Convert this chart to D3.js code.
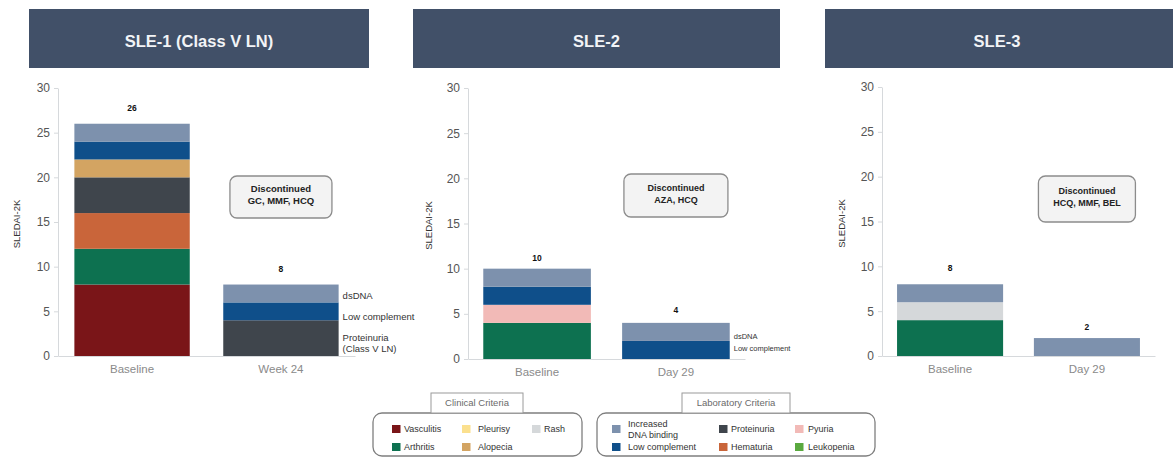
<!DOCTYPE html>
<html>
<head>
<meta charset="utf-8">
<script src="https://cdn.jsdelivr.net/npm/d3@7"></script>
<style>
  body { margin: 0; background: #fff; }
  svg { display: block; font-family: "Liberation Sans", Arial, sans-serif; }
</style>
</head>
<body>
<svg id="chart" width="1173" height="457"></svg>
<script>
// ---- Data -------------------------------------------------------------
const panelTitles = ["SLE-1 (Class V LN)", "SLE-2", "SLE-3"];
const visitLabels = [["Baseline", "Week 24"], ["Baseline", "Day 29"], ["Baseline", "Day 29"]];
const discontinuedDrugs = ["GC, MMF, HCQ", "AZA, HCQ", "HCQ, MMF, BEL"];
const yTicks = [0, 5, 10, 15, 20, 25, 30];

// SLEDAI-2K contributions per visit, listed bottom to top of each stack
const sle1Stacks = [
  [["Vasculitis", 8], ["Arthritis", 4], ["Hematuria", 4], ["Proteinuria", 4],
   ["Alopecia", 2], ["Low complement", 2], ["Increased DNA binding", 2]],
  [["Proteinuria", 4], ["Low complement", 2], ["Increased DNA binding", 2]]
];
const sle2Stacks = [
  [["Arthritis", 4], ["Pyuria", 2], ["Low complement", 2], ["Increased DNA binding", 2]],
  [["Low complement", 2], ["Increased DNA binding", 2]]
];
const sle3Stacks = [
  [["Arthritis", 4], ["Rash", 2], ["Increased DNA binding", 2]],
  [["Increased DNA binding", 2]]
];

// Annotations beside the follow-up bars
const sle1FollowUpNotes = [["dsDNA"], ["Low complement"], ["Proteinuria", "(Class V LN)"]];
const sle2FollowUpNotes = [["dsDNA"], ["Low complement"]];

const clinicalCriteria = ["Vasculitis", "Pleurisy", "Rash", "Arthritis", "Alopecia"];
const laboratoryCriteria = ["Increased DNA binding", "Proteinuria", "Pyuria",
                            "Low complement", "Hematuria", "Leukopenia"];

// ---- Styling ------------------------------------------------------------
const criterionColor = {
  "Vasculitis": "#7a1518",
  "Arthritis": "#0d7150",
  "Pleurisy": "#fbe08e",
  "Alopecia": "#d3a462",
  "Rash": "#d5d8da",
  "Increased DNA binding": "#7d91ad",
  "Low complement": "#0f4f8a",
  "Proteinuria": "#3f454c",
  "Hematuria": "#c9653a",
  "Pyuria": "#f2bab7",
  "Leukopenia": "#5aa93f"
};
const legendLines = { "Increased DNA binding": ["Increased", "DNA binding"] };

const panels = [
  { stacks: sle1Stacks, notes: sle1FollowUpNotes, noteAt: [6.8, 4.4, 2.0], noteSize: 9.5,
    x0: 58, x1: 355, yTop: 88, yBottom: 356, titleX: 17, header: [29, 369],
    box: { y: 176, h: 42, w: 102 }, boxFont: 9.5, labelGap: [16, 16] },
  { stacks: sle2Stacks, notes: sle2FollowUpNotes, noteAt: [2.5, 1.2], noteSize: 7.5,
    x0: 468, x1: 745, yTop: 88, yBottom: 359, titleX: 429, header: [413, 780],
    box: { y: 174, h: 43, w: 104 }, boxFont: 9, labelGap: [11, 13] },
  { stacks: sle3Stacks, notes: [], noteAt: [], noteSize: 7.5,
    x0: 882, x1: 1155, yTop: 87, yBottom: 356, titleX: 842, header: [825, 1185],
    box: { y: 176, h: 46, w: 97 }, boxFont: 9, labelGap: [16, 11] }
];

const svg = d3.select("#chart");

// ---- Panels -------------------------------------------------------------
panels.forEach((p, i) => {
  const g = svg.append("g");

  // header banner
  g.append("rect")
    .attr("x", p.header[0]).attr("y", 9)
    .attr("width", p.header[1] - p.header[0]).attr("height", 59)
    .attr("fill", "#415068");
  g.append("text")
    .attr("x", (p.header[0] + Math.min(p.header[1], 1173)) / 2 + (i === 2 ? -2 : 0))
    .attr("y", 41).attr("dy", "0.35em")
    .attr("text-anchor", "middle")
    .attr("fill", "#f2f4f7").attr("font-weight", "bold").attr("font-size", 16.5)
    .text(panelTitles[i]);

  const visits = visitLabels[i];
  const x = d3.scaleBand().domain(visits).range([p.x0, p.x1])
    .paddingInner(0.225).paddingOuter(0.11);
  const y = d3.scaleLinear().domain([0, 30]).range([p.yBottom, p.yTop]);

  // y axis
  const ya = g.append("g").attr("transform", `translate(${p.x0},0)`)
    .call(d3.axisLeft(y).tickValues(yTicks).tickSize(4).tickSizeOuter(0).tickPadding(4));
  ya.select(".domain").attr("stroke", "#d6d9dc");
  ya.selectAll(".tick line").attr("stroke", "#d6d9dc");
  ya.selectAll(".tick text").attr("fill", "#555").attr("font-size", 12)
    .attr("font-family", "Liberation Sans, Arial, sans-serif");

  // x axis
  const xa = g.append("g").attr("transform", `translate(0,${p.yBottom})`)
    .call(d3.axisBottom(x).tickSize(0).tickSizeOuter(0).tickPadding(9));
  xa.select(".domain").attr("stroke", "#d6d9dc");
  xa.selectAll(".tick text").attr("fill", "#8a8a8a").attr("font-size", 11.5)
    .attr("font-family", "Liberation Sans, Arial, sans-serif");

  // y axis title
  g.append("text")
    .attr("transform", `translate(${p.titleX},${(p.yTop + p.yBottom) / 2 + 2}) rotate(-90)`)
    .attr("text-anchor", "middle").attr("dy", "0.35em")
    .attr("fill", "#333").attr("font-size", 9.5)
    .text("SLEDAI-2K");

  // stacked bars
  p.stacks.forEach((stack, vi) => {
    const visit = visits[vi];
    const tops = d3.cumsum(stack, d => d[1]);
    const segs = stack.map((d, k) => ({ name: d[0], lo: tops[k] - d[1], hi: tops[k] }));
    g.append("g").selectAll("rect").data(segs).join("rect")
      .attr("x", x(visit)).attr("width", x.bandwidth())
      .attr("y", d => y(d.hi))
      .attr("height", d => y(d.lo) - y(d.hi))
      .attr("fill", d => criterionColor[d.name]);

    const total = d3.sum(stack, d => d[1]);
    g.append("text")
      .attr("x", x(visit) + x.bandwidth() / 2)
      .attr("y", y(total) - p.labelGap[vi]).attr("dy", "0.35em")
      .attr("text-anchor", "middle").attr("font-weight", "bold")
      .attr("font-size", 8.5).attr("fill", "#111")
      .text(total);
  });

  // notes beside the follow-up bar
  const lastVisit = visits[visits.length - 1];
  p.notes.forEach((lines, k) => {
    const t = g.append("text")
      .attr("x", x(lastVisit) + x.bandwidth() + 4)
      .attr("y", y(p.noteAt[k])).attr("dy", "0.35em")
      .attr("font-size", p.noteSize).attr("fill", "#333");
    lines.forEach((ln, li) => {
      t.append("tspan").attr("x", x(lastVisit) + x.bandwidth() + 4)
        .attr("dy", li === 0 ? "0.35em" : "1.15em").text(ln);
    });
    t.attr("dy", null);
  });

  // treatment discontinuation call-out
  const cx = x(lastVisit) + x.bandwidth() / 2;
  g.append("rect")
    .attr("x", cx - p.box.w / 2).attr("y", p.box.y)
    .attr("width", p.box.w).attr("height", p.box.h)
    .attr("rx", 7).attr("ry", 7)
    .attr("fill", "#f3f3f3").attr("stroke", "#8c8c8c").attr("stroke-width", 1.3);
  const bt = g.append("text").attr("text-anchor", "middle")
    .attr("font-weight", "bold").attr("font-size", p.boxFont).attr("fill", "#222");
  bt.append("tspan").attr("x", cx).attr("y", p.box.y + p.box.h / 2 - 5).text("Discontinued");
  bt.append("tspan").attr("x", cx).attr("y", p.box.y + p.box.h / 2 + 7).text(discontinuedDrugs[i]);
});

// ---- Legends ------------------------------------------------------------
function drawLegend(title, items, frame, titleBox, swatchX, textX) {
  const g = svg.append("g");
  g.append("rect")
    .attr("x", frame.x).attr("y", frame.y).attr("width", frame.w).attr("height", frame.h)
    .attr("rx", 9).attr("ry", 9)
    .attr("fill", "none").attr("stroke", "#7f7f7f").attr("stroke-width", 1.3);
  g.append("rect")
    .attr("x", titleBox.x).attr("y", titleBox.y).attr("width", titleBox.w).attr("height", titleBox.h)
    .attr("fill", "#fff").attr("stroke", "#9a9a9a").attr("stroke-width", 1);
  g.append("text")
    .attr("x", titleBox.x + titleBox.w / 2).attr("y", titleBox.y + titleBox.h / 2)
    .attr("dy", "0.35em").attr("text-anchor", "middle")
    .attr("font-size", 9.5).attr("fill", "#6a6a6a").text(title);

  const rowY = [429, 447];
  items.forEach((name, k) => {
    const col = k % 3, row = Math.floor(k / 3);
    const cy = rowY[row];
    g.append("rect")
      .attr("x", swatchX[col]).attr("y", cy - 4)
      .attr("width", 8.5).attr("height", 8)
      .attr("fill", criterionColor[name]);
    const lines = legendLines[name] || [name];
    const t = g.append("text").attr("font-size", 9).attr("fill", "#333");
    lines.forEach((ln, li) => {
      t.append("tspan").attr("x", textX[col])
        .attr("y", cy + (li - (lines.length - 1) / 2) * 11)
        .attr("dy", "0.35em").text(ln);
    });
  });
}

drawLegend("Clinical Criteria", clinicalCriteria,
  { x: 373, y: 413, w: 209, h: 43 }, { x: 431, y: 393, w: 92, h: 20 },
  [392, 462, 532], [404, 478, 544]);
drawLegend("Laboratory Criteria", laboratoryCriteria,
  { x: 597, y: 413, w: 278, h: 43 }, { x: 682, y: 393, w: 108, h: 20 },
  [612, 719, 795], [628, 731, 808]);
</script>
</body>
</html>
